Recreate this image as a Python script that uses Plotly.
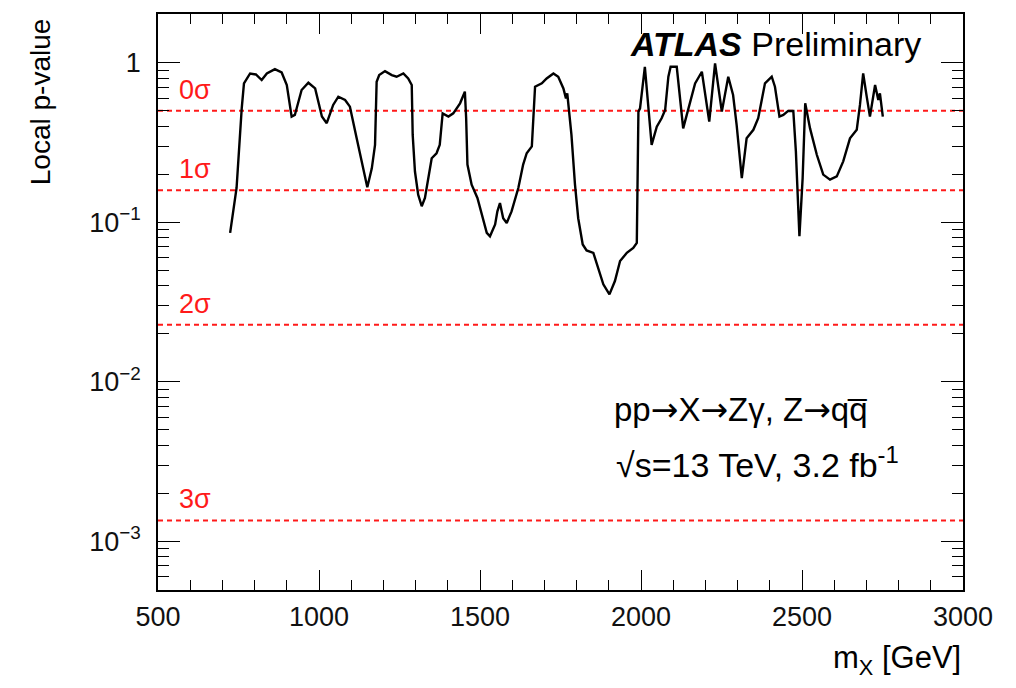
import math
import plotly.graph_objects as go

# ---- data ----
mass_gev = [724, 744, 760, 767, 786, 804, 822, 838, 863, 884, 900, 915, 925, 946, 967, 988,
            1009, 1024, 1044, 1060, 1081, 1096, 1117, 1138, 1150, 1164, 1174, 1179, 1187, 1205,
            1226, 1241, 1262, 1277, 1288, 1291, 1298, 1308, 1319, 1329, 1339, 1350, 1365, 1375,
            1384, 1402, 1417, 1438, 1453, 1457, 1461, 1474, 1492, 1505, 1521, 1531, 1547, 1554,
            1562, 1572, 1583, 1598, 1619, 1634, 1645, 1661, 1668, 1671, 1692, 1707, 1728, 1743,
            1759, 1767, 1771, 1784, 1795, 1805, 1819, 1831, 1852, 1867, 1883, 1902, 1919, 1935,
            1956, 1976, 1987, 1992, 1997, 2012, 2023, 2033, 2049, 2064, 2075, 2085, 2092, 2111,
            2131, 2152, 2168, 2189, 2212, 2230, 2251, 2271, 2286, 2297, 2313, 2328, 2349, 2364,
            2385, 2406, 2416, 2430, 2442, 2457, 2473, 2481, 2492, 2502, 2510, 2525, 2546, 2566,
            2587, 2608, 2628, 2649, 2670, 2680, 2690, 2701, 2711, 2727, 2737, 2742, 2751]
local_p = [0.0858, 0.164, 0.518, 0.743, 0.857, 0.845, 0.780, 0.857, 0.913, 0.870, 0.726, 0.460,
           0.471, 0.675, 0.750, 0.691, 0.460, 0.418, 0.544, 0.613, 0.585, 0.531, 0.336, 0.218,
           0.166, 0.218, 0.306, 0.761, 0.838, 0.887, 0.838, 0.818, 0.857, 0.798, 0.726, 0.353,
           0.208, 0.149, 0.126, 0.142, 0.189, 0.252, 0.271, 0.306, 0.482, 0.460, 0.482, 0.557,
           0.659, 0.449, 0.230, 0.172, 0.142, 0.112, 0.0858, 0.0817, 0.0968, 0.117, 0.132, 0.106,
           0.099, 0.117, 0.164, 0.230, 0.271, 0.299, 0.494, 0.708, 0.743, 0.798, 0.857, 0.818,
           0.691, 0.598, 0.643, 0.353, 0.172, 0.106, 0.0726, 0.0666, 0.0643, 0.0518, 0.0408,
           0.0353, 0.0428, 0.0571, 0.0643, 0.0691, 0.0743, 0.494, 0.518, 0.944, 0.494, 0.306,
           0.398, 0.449, 0.506, 0.818, 0.944, 0.944, 0.388, 0.570, 0.743, 0.879, 0.428, 0.990,
           0.494, 0.818, 0.628, 0.408, 0.189, 0.336, 0.380, 0.449, 0.743, 0.818, 0.708, 0.460,
           0.471, 0.499, 0.499, 0.278, 0.0817, 0.189, 0.557, 0.388, 0.265, 0.199, 0.185, 0.194,
           0.241, 0.336, 0.380, 0.544, 0.857, 0.613, 0.460, 0.726, 0.585, 0.643, 0.460]

sigma_labels = ["0σ", "1σ", "2σ", "3σ"]
sigma_p = [0.5, 0.1587, 0.02275, 0.00135]

x_range = [500, 3000]
x_tickvals = [500, 1000, 1500, 2000, 2500, 3000]
y_tickvals = [1e-3, 1e-2, 1e-1, 1]
y_ticktext = ["10<sup>−3</sup>", "10<sup>−2</sup>", "10<sup>−1</sup>", "1"]

FONT = "Liberation Sans"
RED = "#ff1a1a"
ARROW = '<span style="font-family:DejaVu Sans">→</span>'

fig = go.Figure()

for lab, p in zip(sigma_labels, sigma_p):
    fig.add_trace(go.Scatter(x=x_range, y=[p, p], mode="lines",
                             line=dict(color=RED, width=2, dash="5px,4px"),
                             hoverinfo="skip", showlegend=False))
    fig.add_annotation(x=558, y=math.log10(p), xref="x", yref="y", text=lab,
                       showarrow=False, xanchor="left", yanchor="bottom", yshift=4,
                       font=dict(family=FONT, size=27, color=RED))

fig.add_trace(go.Scatter(x=mass_gev, y=local_p, mode="lines",
                         line=dict(color="black", width=2.4),
                         showlegend=False))

axis_common = dict(showline=True, linecolor="black", linewidth=1.5, mirror="ticks",
                   ticks="inside", tickcolor="black", showgrid=False, zeroline=False,
                   tickfont=dict(family=FONT, size=27, color="#111"))

fig.update_xaxes(range=x_range, tickvals=x_tickvals, ticklen=20, tickwidth=1.2,
                 minor=dict(ticks="inside", dtick=100, ticklen=10, tickcolor="black", tickwidth=1),
                 ticklabelstandoff=2, **axis_common)
fig.update_yaxes(type="log", range=[-3.306, 0.306], tickvals=y_tickvals, ticktext=y_ticktext,
                 ticklen=22, tickwidth=1.2,
                 minor=dict(ticks="inside", dtick="D1", ticklen=11, tickcolor="black", tickwidth=1),
                 ticklabelstandoff=10, **axis_common)

fig.add_annotation(x=0.584, y=0.948, xref="paper", yref="paper",
                   text="<b><i>ATLAS</i></b> Preliminary", showarrow=False,
                   xanchor="left", yanchor="middle",
                   font=dict(family=FONT, size=34, color="black"))
fig.add_annotation(x=0.564, y=0.314, xref="paper", yref="paper",
                   text="pp" + ARROW + "X" + ARROW + "Zγ, Z" + ARROW + "qq\u0305",
                   showarrow=False, xanchor="left", yanchor="middle",
                   font=dict(family=FONT, size=33, color="black"))
fig.add_annotation(x=0.567, y=0.221, xref="paper", yref="paper",
                   text="√s=13 TeV, 3.2 fb<sup>-1</sup>", showarrow=False,
                   xanchor="left", yanchor="middle",
                   font=dict(family=FONT, size=34, color="black"))
fig.add_annotation(x=-0.1466, y=0.997, xref="paper", yref="paper",
                   text="Local p-value", textangle=-90, showarrow=False,
                   xanchor="center", yanchor="top",
                   font=dict(family=FONT, size=28, color="black"))
fig.add_annotation(x=1.0, y=-0.122, xref="paper", yref="paper",
                   text="m<sub>X</sub> [GeV]", showarrow=False,
                   xanchor="right", yanchor="middle",
                   font=dict(family=FONT, size=31, color="black"))

fig.update_layout(width=1016, height=688, margin=dict(l=158, r=53, t=12, b=98),
                  plot_bgcolor="white", paper_bgcolor="white", showlegend=False)

fig.write_html("out.html")
